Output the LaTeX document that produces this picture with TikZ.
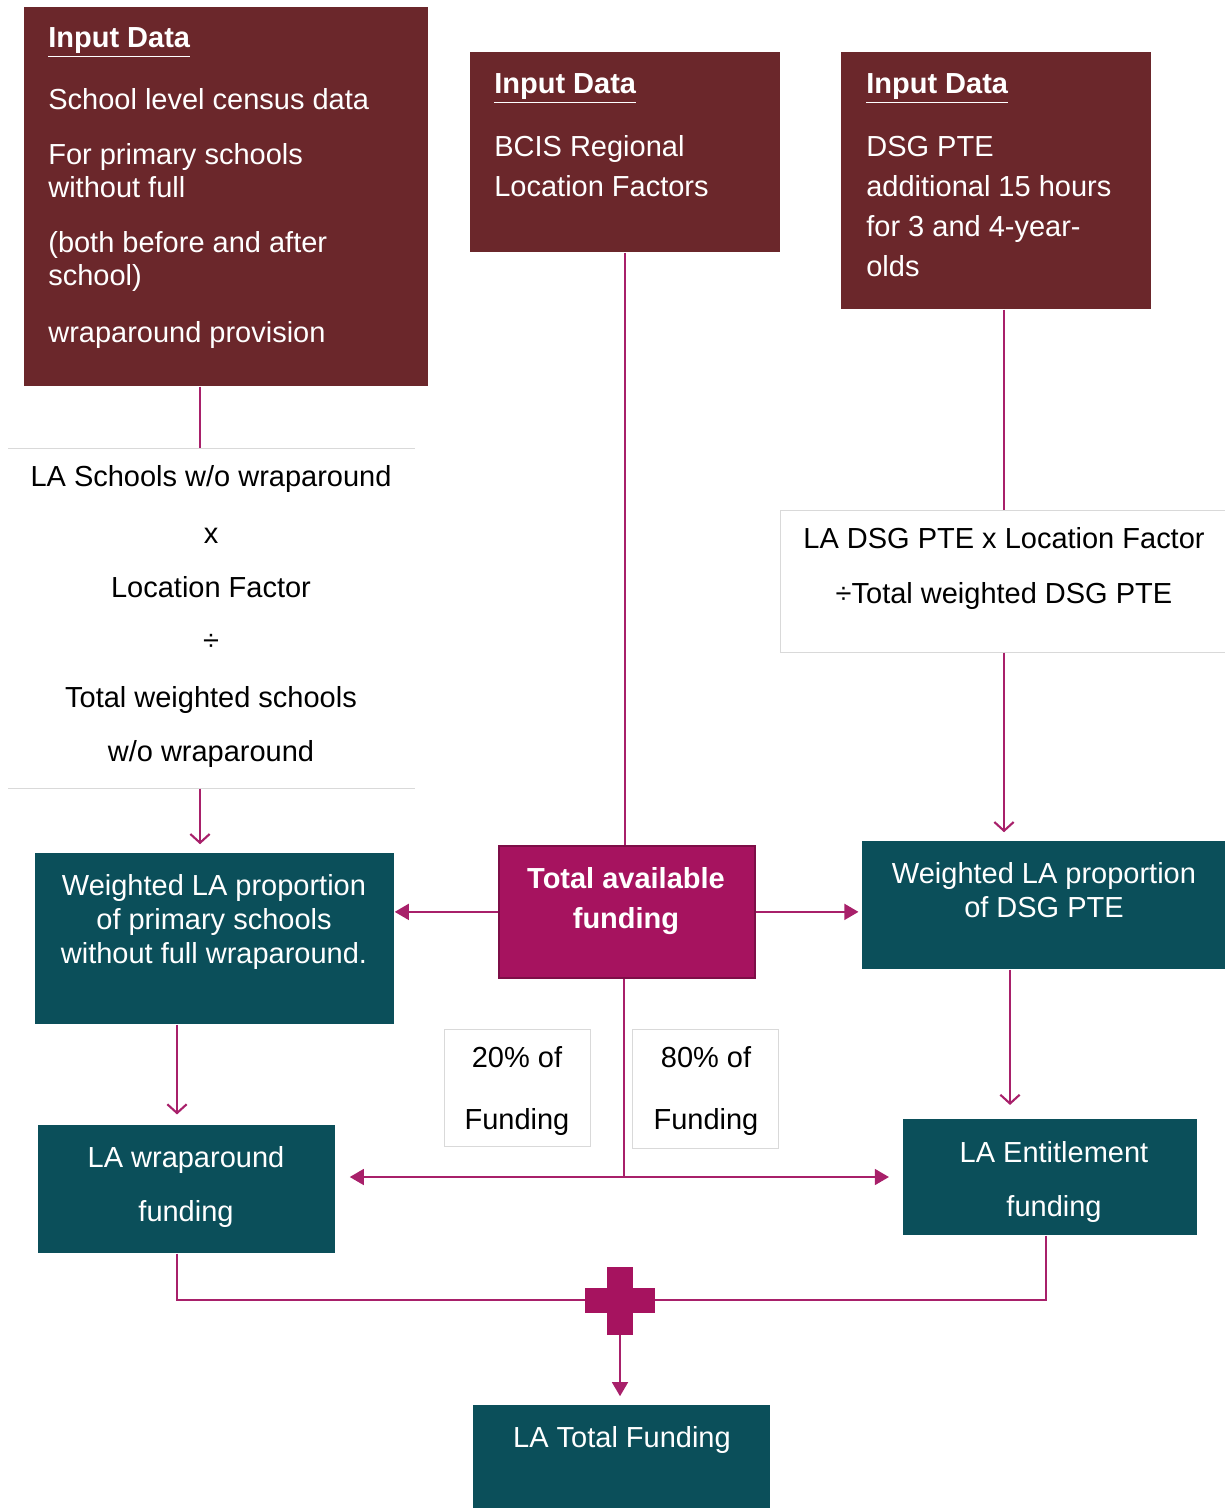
\documentclass[tikz,border=0pt]{standalone}
\usepackage{fontspec}
\setmainfont{Liberation Sans}
\usetikzlibrary{arrows.meta}
\definecolor{inputred}{HTML}{6B272B}
\definecolor{boxteal}{HTML}{0B4F5A}
\definecolor{fundplum}{HTML}{A6135F}
\definecolor{lineplum}{HTML}{A8206A}

\begin{document}
\begin{tikzpicture}
[x=0.02cm,y=-0.02cm,
  font=\fontsize{16.5}{20}\selectfont,
  inputbox/.style={shape=rectangle,fill=inputred,anchor=north west,inner sep=0pt},
  tealbox/.style={shape=rectangle,fill=boxteal,anchor=north west,inner sep=0pt},
  fundbox/.style={shape=rectangle,fill=fundplum,draw=fundplum!75!black,line width=1pt,anchor=north west,inner sep=0pt},
  formulabox/.style={shape=rectangle,fill=white,draw=black!15,anchor=north west,inner sep=0pt},
  plainbox/.style={shape=rectangle,anchor=north west,inner sep=0pt},
  intext/.style={anchor=mid west,text=white,inner sep=0pt,yshift=-0.12cm},
  blacktext/.style={anchor=mid,text=black,inner sep=0pt,yshift=-0.12cm},
  whitetext/.style={anchor=mid,text=white,inner sep=0pt,yshift=-0.12cm},
  boldtext/.style={anchor=mid,text=white,inner sep=0pt,yshift=-0.12cm,font=\fontsize{16.5}{20}\selectfont\bfseries},
  linedecorate/.style={-,draw=lineplum,line width=1.2pt},
  openarrow/.style={linedecorate,-{Straight Barb[length=5pt,width=11pt]}},
  fillarrow/.style={linedecorate,-{Triangle[length=8pt,width=9pt]}}]
\useasboundingbox (0,0) rectangle (1224,1508);
%% boxes
\foreach \nodename/\x/\y/\w/\h/\kind in {in1/24/7/404/379/inputbox,
  in2/470/52/310/200/inputbox, in3/841/52/310/257/inputbox,
  fsch/8/448/406/340/plainbox, fdsg/780/510/470/142/formulabox,
  wsch/35/853/359/171/tealbox, total/498/845/256/132/fundbox,
  wdsg/862/841/380/128/tealbox, f20/444/1029/146/117/formulabox,
  f80/632/1029/146/119/formulabox, lawrap/38/1125/297/128/tealbox,
  laent/903/1119/294/116/tealbox, latot/473/1405/297/130/tealbox}
{
  \node (\nodename) at (\x,\y) [\kind,minimum width=\w*0.02cm,minimum height=\h*0.02cm] {};
}
\draw[draw=black!15] (fsch.north west) -- (fsch.north east)
  (fsch.south west) -- (fsch.south east);
%% plus sign
\node (plusv) at (620,1301) [shape=rectangle,fill=fundplum,inner sep=0pt,minimum width=26*0.02cm,minimum height=68*0.02cm] {};
\node (plush) at (620,1300) [shape=rectangle,fill=fundplum,inner sep=0pt,minimum width=70*0.02cm,minimum height=25*0.02cm] {};
%% texts
\foreach \tx/\ty/\kind/\txt [count=\i] in {
  48/37/intext/{\textbf{\underline{Input Data}}},
  48/99/intext/{School level census data},
  48/154/intext/{For primary schools},
  48/187/intext/{without full},
  48/242/intext/{(both before and after},
  48/275/intext/{school)},
  48/332/intext/{wraparound provision},
  494/83/intext/{\textbf{\underline{Input Data}}},
  494/146/intext/{BCIS Regional},
  494/186/intext/{Location Factors},
  866/83/intext/{\textbf{\underline{Input Data}}},
  866/146/intext/{DSG PTE},
  866/186/intext/{additional 15 hours},
  866/226/intext/{for 3 and 4-year-},
  866/266/intext/{olds},
  211/476/blacktext/{LA Schools w/o wraparound},
  211/533/blacktext/{x},
  211/587/blacktext/{Location Factor},
  211/640/blacktext/{÷},
  211/697/blacktext/{Total weighted schools},
  211/751/blacktext/{w/o wraparound},
  1004/538/blacktext/{LA DSG PTE x Location Factor},
  1004/593/blacktext/{÷Total weighted DSG PTE},
  214/885/whitetext/{Weighted LA proportion},
  214/919/whitetext/{of primary schools},
  214/953/whitetext/{without full wraparound.},
  626/878/boldtext/{Total available},
  626/918/boldtext/{funding},
  1044/873/whitetext/{Weighted LA proportion},
  1044/907/whitetext/{of DSG PTE},
  517/1057/blacktext/{20\% of},
  517/1119/blacktext/{Funding},
  706/1057/blacktext/{80\% of},
  706/1119/blacktext/{Funding},
  186/1157/whitetext/{LA wraparound},
  186/1211/whitetext/{funding},
  1054/1152/whitetext/{LA Entitlement},
  1054/1206/whitetext/{funding},
  622/1437/whitetext/{LA Total Funding}}
{
  \node (txt\i) at (\tx,\ty) [\kind] {\txt};
}
%% edges
\coordinate (colA) at (200,0);
\coordinate (colB) at (1004,0);
\coordinate (colC) at (177,0);
\coordinate (colD) at (1010,0);
\coordinate (colE) at (1046,0);
\coordinate (split) at (624,1177);
\draw[linedecorate] (in1.south -| colA) -- (fsch.north -| colA);
\draw[openarrow,shorten >=5pt] (fsch.south -| colA) -- (wsch.north -| colA);
\draw[linedecorate] (in2.south) -- (in2.south |- total.north);
\draw[linedecorate] (in3.south -| colB) -- (fdsg.north -| colB);
\draw[openarrow,shorten >=5pt] (fdsg.south -| colB) -- (wdsg.north -| colB);
\draw[fillarrow] (total.west) -- (total.west -| wsch.east);
\draw[fillarrow,shorten >=2pt] (total.east) -- (total.east -| wdsg.west);
\draw[openarrow,shorten >=6pt] (wsch.south -| colC) -- (lawrap.north -| colC);
\draw[openarrow,shorten >=8pt] (wdsg.south -| colD) -- (laent.north -| colD);
\draw[linedecorate] (total.south -| split) -- (split);
\draw[linedecorate,{Triangle[length=8pt,width=9pt]}-{Triangle[length=8pt,width=9pt]},shorten <=8pt,shorten >=8pt]
  (lawrap.east |- split) -- (laent.west |- split);
\draw[linedecorate] (lawrap.south -| colC) |- (plush.west);
\draw[linedecorate] (laent.south -| colE) |- (plush.east);
\draw[fillarrow,shorten >=5pt] (plusv.south) -- (latot.north -| plusv.south);
\end{tikzpicture}
\end{document}
